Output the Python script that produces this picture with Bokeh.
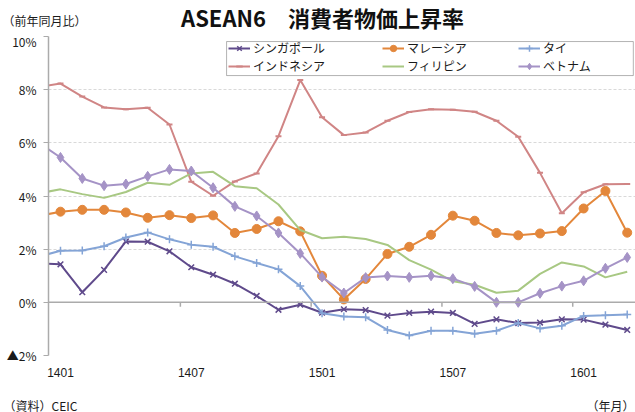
from bokeh.plotting import figure
from bokeh.layouts import column
from bokeh.models import (ColumnDataSource, Legend, LegendItem, FixedTicker,
                          Span, BoxAnnotation)
from bokeh.core.properties import value
from bokeh.embed import file_html
from bokeh.resources import INLINE

# ---- data (year-on-year CPI, %) ; index 0 = 1312 (partly off-axis) ----
months = ["1312",
          "1401", "1402", "1403", "1404", "1405", "1406", "1407", "1408", "1409", "1410", "1411", "1412",
          "1501", "1502", "1503", "1504", "1505", "1506", "1507", "1508", "1509", "1510", "1511", "1512",
          "1601", "1602", "1603"]
singapore = [1.47,
             1.43, 0.38, 1.22, 2.29, 2.28, 1.92, 1.32, 1.04, 0.70, 0.24, -0.28, -0.09,
             -0.39, -0.26, -0.29, -0.50, -0.40, -0.35, -0.40, -0.81, -0.64, -0.78, -0.76, -0.64,
             -0.65, -0.84, -1.04]
malaysia = [3.25,
            3.41, 3.48, 3.48, 3.38, 3.18, 3.28, 3.17, 3.27, 2.61, 2.76, 3.05, 2.67,
            1.00, 0.11, 0.88, 1.82, 2.09, 2.54, 3.26, 3.07, 2.61, 2.52, 2.59, 2.68,
            3.53, 4.19, 2.62]
thailand = [1.72,
            1.94, 1.95, 2.11, 2.44, 2.63, 2.37, 2.17, 2.09, 1.73, 1.48, 1.24, 0.61,
            -0.41, -0.53, -0.56, -1.04, -1.25, -1.07, -1.07, -1.18, -1.07, -0.78, -0.98, -0.88,
            -0.51, -0.49, -0.46]
indonesia = [8.10,
             8.23, 7.74, 7.33, 7.26, 7.32, 6.69, 4.54, 4.01, 4.55, 4.85, 6.25, 8.36,
             6.96, 6.29, 6.39, 6.83, 7.16, 7.26, 7.24, 7.17, 6.83, 6.23, 4.87, 3.35,
             4.14, 4.44, 4.45]
philippines = [4.10,
               4.25, 4.07, 3.93, 4.15, 4.50, 4.42, 4.85, 4.91, 4.37, 4.29, 3.68, 2.72,
               2.41, 2.47, 2.38, 2.16, 1.59, 1.23, 0.79, 0.66, 0.36, 0.44, 1.07, 1.50,
               1.35, 0.94, 1.15]
vietnam = [6.01,
           5.45, 4.66, 4.39, 4.45, 4.74, 5.00, 4.94, 4.31, 3.61, 3.25, 2.61, 1.84,
           0.95, 0.35, 0.93, 0.99, 0.94, 1.00, 0.89, 0.60, 0.00, 0.00, 0.34, 0.61,
           0.81, 1.28, 1.69]

series_names = ["シンガポール", "マレーシア", "タイ", "インドネシア", "フィリピン", "ベトナム"]
x_tick_labels = ["1401", "1407", "1501", "1507", "1601"]
y_ticks = [-2, 0, 2, 4, 6, 8, 10]
y_tick_labels = ["▲2%", "0%", "2%", "4%", "6%", "8%", "10%"]

title_text = "ASEAN6　消費者物価上昇率"
unit_text = "（前年同月比）"
source_text = "（資料）CEIC"
xunit_text = "（年月）"

JP = "Noto Sans CJK JP"
NUM = "Liberation Sans"
TXT = "#1a1a1a"
FW = 635


def text_strip(h):
    f = figure(width=FW, height=h, output_backend="svg", toolbar_location=None,
               x_range=(0, FW), y_range=(0, h), x_axis_type=None, y_axis_type=None,
               min_border=0, outline_line_color=None, frame_align=False,
               background_fill_color="white", border_fill_color="white")
    f.xgrid.visible = False
    f.ygrid.visible = False
    return f


# ---- top strip: unit + title ----
TOP_H = 32
top = text_strip(TOP_H)
top.text(x=[2], y=[TOP_H - 19.5], text=[unit_text], text_font=value(JP),
         text_font_size="12px", text_align="left", text_baseline="middle", text_color=TXT)
top.text(x=[322], y=[TOP_H - 16.2], text=[title_text], text_font=value(JP),
         text_font_size="22px", text_font_style="bold", text_align="center",
         text_baseline="middle", text_color="#111111")

# ---- main chart ----
x = list(range(len(months)))
src = ColumnDataSource(dict(x=x, sg=singapore, my=malaysia, th=thailand,
                            id=indonesia, ph=philippines, vn=vietnam))

p = figure(width=FW, height=353, output_backend="svg", toolbar_location=None,
           x_range=(0.45, 27.38), y_range=(-2, 10), frame_align=False,
           min_border_left=48, min_border_right=0, min_border_top=4, min_border_bottom=30,
           outline_line_color=None, background_fill_color="white", border_fill_color="white")

x_tick_pos = [months.index(m) for m in x_tick_labels]
p.xaxis.ticker = FixedTicker(ticks=x_tick_pos)
p.xaxis.major_label_overrides = {t: l for t, l in zip(x_tick_pos, x_tick_labels)}
p.xaxis.axis_line_color = None
p.xaxis.major_tick_line_color = None
p.xaxis.minor_tick_line_color = None
p.xaxis.major_label_standoff = 6
p.xaxis.major_label_text_font = NUM
p.xaxis.major_label_text_font_size = "12px"
p.xaxis.major_label_text_color = TXT

p.yaxis.ticker = FixedTicker(ticks=y_ticks)
p.yaxis.major_label_overrides = {t: l for t, l in zip(y_ticks, y_tick_labels)}
p.yaxis.axis_line_color = "#ABABAB"
p.yaxis.axis_line_width = 1.5
p.yaxis.major_tick_line_color = "#ABABAB"
p.yaxis.major_tick_in = 0
p.yaxis.major_tick_out = 5
p.yaxis.minor_tick_line_color = None
p.yaxis.major_label_standoff = 7
p.yaxis.major_label_text_font = JP
p.yaxis.major_label_text_font_size = "12px"
p.yaxis.major_label_text_color = TXT

p.xgrid.visible = False
p.ygrid.ticker = FixedTicker(ticks=y_ticks)
p.ygrid.grid_line_color = "#D9D9D9"
p.ygrid.grid_line_dash = "3 2"
p.ygrid.grid_line_width = 1

# zero line with tick marks between categories
p.add_layout(Span(location=0, dimension="width", line_color="#ABABAB", line_width=1.5))
tick_between = [t - 0.5 for t in x_tick_pos[1:]]
p.segment(x0=tick_between, x1=tick_between, y0=[0] * len(tick_between),
          y1=[-0.17] * len(tick_between), line_color="#ABABAB", line_width=1.5)

C_SG = "#5F4A8B"
C_MY = "#E3873B"
C_TH = "#84A4D6"
C_ID = "#D08585"
C_PH = "#A8C883"
C_VN = "#A593C6"
LW = 2

r_sg = p.line("x", "sg", source=src, line_color=C_SG, line_width=LW)
m_sg = p.scatter("x", "sg", source=src, marker="x", size=8, line_color=C_SG, line_width=1.5)
r_my = p.line("x", "my", source=src, line_color=C_MY, line_width=LW)
m_my = p.scatter("x", "my", source=src, marker="circle", size=9, fill_color=C_MY, line_color=C_MY)
r_th = p.line("x", "th", source=src, line_color=C_TH, line_width=LW)
m_th = p.scatter("x", "th", source=src, marker="cross", size=8, line_color=C_TH, line_width=1.5)
r_id = p.line("x", "id", source=src, line_color=C_ID, line_width=LW)
m_id = p.scatter("x", "id", source=src, marker="dash", size=6, line_color=C_ID, line_width=2)
r_ph = p.line("x", "ph", source=src, line_color=C_PH, line_width=LW)
r_vn = p.line("x", "vn", source=src, line_color=C_VN, line_width=LW)
m_vn = p.scatter("x", "vn", source=src, marker="diamond", size=10, fill_color=C_VN, line_color=C_VN)

# legend box (data coords; ranges are fixed)
p.add_layout(BoxAnnotation(left=8.62, right=27.28, top=9.81, bottom=8.53,
                           fill_color="white", fill_alpha=1, line_color="black", line_width=1))

cols = [
    [(series_names[0], [r_sg, m_sg]), (series_names[3], [r_id, m_id])],
    [(series_names[1], [r_my, m_my]), (series_names[4], [r_ph])],
    [(series_names[2], [r_th, m_th]), (series_names[5], [r_vn, m_vn])],
]
col_x = [180, 334, 470]
for cx, items in zip(col_x, cols):
    lg = Legend(items=[LegendItem(label=n, renderers=r) for n, r in items],
                location=(cx, 281), orientation="vertical",
                border_line_color=None, background_fill_alpha=0,
                padding=0, margin=0, spacing=1,
                label_height=16, glyph_height=16, glyph_width=22, label_standoff=3,
                label_text_font=JP, label_text_font_size="12px", label_text_color=TXT)
    p.add_layout(lg)

# ---- bottom strip: source + x unit ----
BOT_H = 27
bot = text_strip(BOT_H)
bot.text(x=[3], y=[BOT_H - 19.5], text=[source_text], text_font=value(JP),
         text_font_size="12px", text_align="left", text_baseline="middle", text_color=TXT)
bot.text(x=[634], y=[BOT_H - 19.5], text=[xunit_text], text_font=value(JP),
         text_font_size="12px", text_align="right", text_baseline="middle", text_color=TXT)

layout = column(top, p, bot, spacing=0)
open("out.html", "w").write(file_html(layout, INLINE))
